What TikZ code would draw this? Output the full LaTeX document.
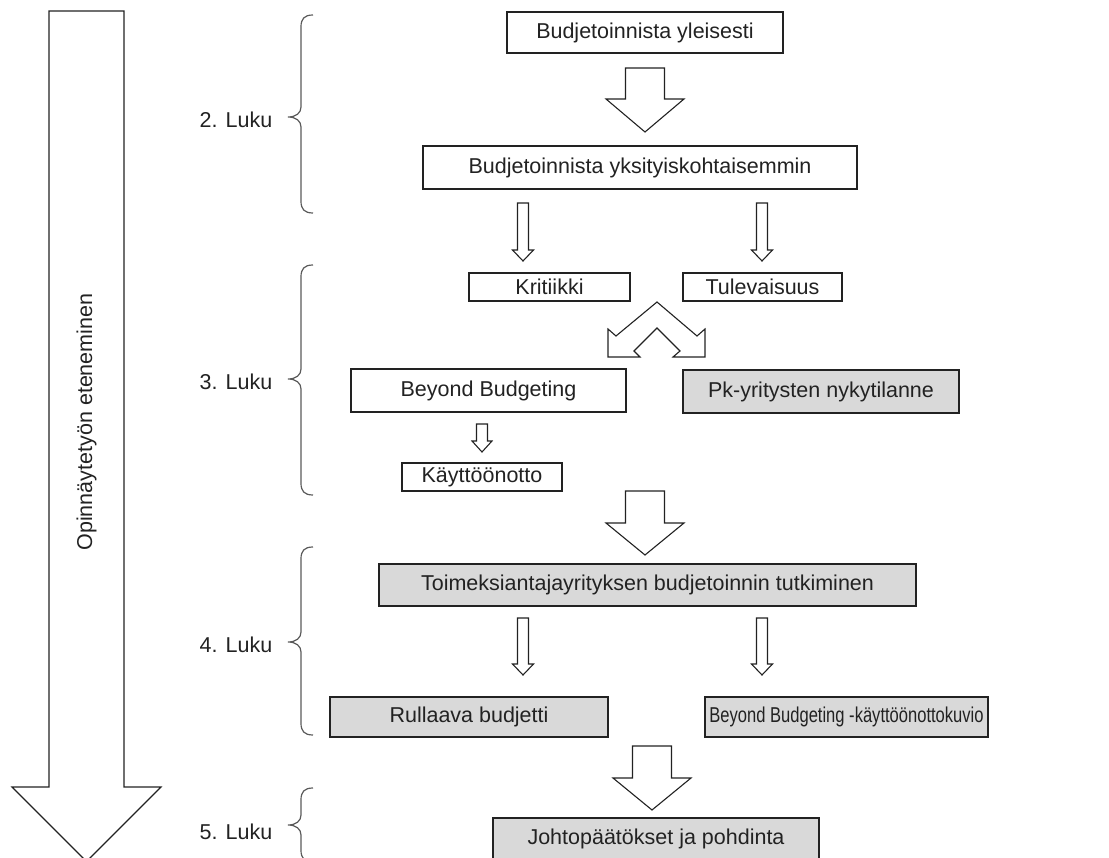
\documentclass[tikz,border=0pt]{standalone}
\usepackage{graphicx}
\usepackage{fontspec}
\setmainfont{Liberation Sans}
\definecolor{boxgray}{RGB}{217,217,217}
\definecolor{ink}{RGB}{34,34,34}
\definecolor{bracecol}{RGB}{90,90,90}
\newcommand{\dnarrow}[6]{% cx, ytop, yhead, ytip, shaft half, head half
  \draw[blockarrow] (#1-#5,#2) -- (#1+#5,#2) -- (#1+#5,#3) -- (#1+#6,#3) -- (#1,#4)
    -- (#1-#6,#3) -- (#1-#5,#3) -- cycle;}
\newcommand{\lukubrace}[3]{% ytop, ymid, ybot
  \draw[bracestyle] (313,#1) .. controls (304,#1) and (301,#1+4) .. (301,#1+12)
    -- (301,#2-10) .. controls (301,#2-4) and (296,#2) .. (288,#2)
    .. controls (296,#2) and (301,#2+4) .. (301,#2+10)
    -- (301,#3-12) .. controls (301,#3-4) and (304,#3) .. (313,#3);}
\begin{document}
\begin{tikzpicture}[x=1pt,y=-1pt,
  every node/.style={font=\fontsize{21.5}{25}\selectfont, text=ink},
  wbox/.style={draw=ink, line width=1.1pt, fill=white, inner sep=0pt},
  gbox/.style={wbox, fill=boxgray},
  blockarrow/.style={draw=ink, line width=1.1pt, fill=white, line join=miter},
  bracestyle/.style={draw=bracecol, line width=1.2pt},
  luku/.style={anchor=center}]
\useasboundingbox (0,0) rectangle (1109,858);

% big progress arrow
\draw[blockarrow] (49,11) -- (124,11) -- (124,787) -- (161,787) -- (86.5,861.5)
  -- (12,787) -- (49,787) -- cycle;
\node[rotate=90] (prog) at (86.5,422) {Opinnäytetyön eteneminen};

% braces and chapter labels
\lukubrace{15}{117}{213}
\lukubrace{265}{379}{495}
\lukubrace{547}{642}{735}
\lukubrace{788}{825}{862}
\node[luku] (l2) at (236,120) {2. Luku};
\node[luku] (l3) at (236,382) {3. Luku};
\node[luku] (l4) at (236,645) {4. Luku};
\node[luku] (l5) at (236,832) {5. Luku};

% boxes
\node[wbox, minimum width=276pt, minimum height=41pt] (b1) at (645,32.5) {Budjetoinnista yleisesti};
\node[wbox, minimum width=434pt, minimum height=43pt] (b2) at (640,167.5) {Budjetoinnista yksityiskohtaisemmin};
\node[wbox, minimum width=161pt, minimum height=28pt] (krit) at (549.5,287) {Kritiikki};
\node[wbox, minimum width=159pt, minimum height=28pt] (tul) at (762.5,287) {Tulevaisuus};
\node[wbox, minimum width=275pt, minimum height=43pt] (bb) at (488.5,390.5) {Beyond Budgeting};
\node[gbox, minimum width=276pt, minimum height=43pt] (pk) at (821,391.5) {Pk-yritysten nykytilanne};
\node[wbox, minimum width=160pt, minimum height=28pt] (kay) at (482,477) {Käyttöönotto};
\node[gbox, minimum width=537pt, minimum height=42pt] (toim) at (647.5,585) {Toimeksiantajayrityksen budjetoinnin tutkiminen};
\node[gbox, minimum width=278pt, minimum height=40pt] (rul) at (469,717) {Rullaava budjetti};
\node[gbox, minimum width=283pt, minimum height=40pt] (bbk) at (846.5,717) {\scalebox{0.77}[1]{Beyond Budgeting -käyttöönottokuvio}};
\node[gbox, minimum width=326pt, minimum height=42pt] (joh) at (656,839) {Johtopäätökset ja pohdinta};

% block arrows
\dnarrow{645}{68}{99}{132}{19.5}{39}
\dnarrow{523}{203}{250}{261}{5.5}{10.5}
\dnarrow{762}{203}{250}{261}{5.5}{10.5}
\draw[blockarrow] (657,302) -- (697,336) -- (705,329) -- (705,357) -- (673,357)
  -- (680,351) -- (657,328) -- (634,351) -- (640,357) -- (608,357) -- (608,329)
  -- (616,336) -- cycle;
\dnarrow{482}{424}{441}{452}{5.5}{10}
\dnarrow{645}{491}{523}{555}{19.5}{39}
\dnarrow{523}{618}{664}{675}{5.5}{10.5}
\dnarrow{762}{618}{664}{675}{5.5}{10.5}
\dnarrow{652}{746}{778}{810}{19.5}{39}
\end{tikzpicture}
\end{document}
